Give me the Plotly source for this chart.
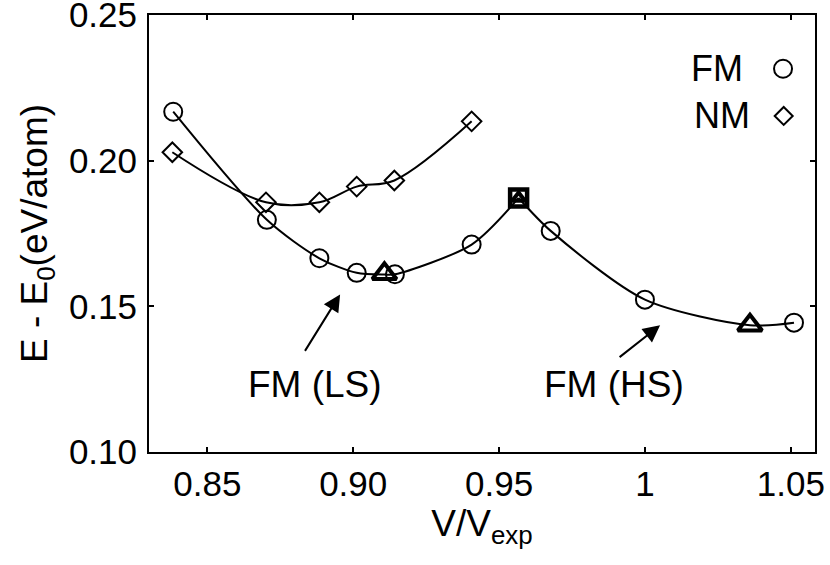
import plotly.graph_objects as go

# ---- data ----
fm_x = [0.8383, 0.8704, 0.8884, 0.9012, 0.9143, 0.9406, 0.9677, 1.0000, 1.0511]
fm_y = [0.2168, 0.1797, 0.1665, 0.1615, 0.1610, 0.1712, 0.1759, 0.1523, 0.1444]

nm_x = [0.8380, 0.8701, 0.8884, 0.9012, 0.9141, 0.9406]
nm_y = [0.2029, 0.1857, 0.1857, 0.1911, 0.1932, 0.2135]

# fitted curves (low-spin branch, high-spin branch) through the points
ls_curve_x = [0.8383, 0.8704, 0.8884, 0.9012, 0.9107, 0.9143, 0.9406, 0.9567]
ls_curve_y = [0.2168, 0.1797, 0.1665, 0.1615, 0.1609, 0.1610, 0.1712, 0.1872]
hs_curve_x = [0.9567, 0.9677, 1.0000, 1.0360, 1.0511]
hs_curve_y = [0.1872, 0.1759, 0.1523, 0.1435, 0.1444]

min_x = [0.9107, 1.0360]       # triangles (minima)
min_y = [0.1612, 0.1435]
cross_x = [0.9567]             # square (transition)
cross_y = [0.1872]

x_ticks = [0.85, 0.90, 0.95, 1.00, 1.05]
x_tick_text = ["0.85", "0.90", "0.95", "1", "1.05"]
y_ticks = [0.10, 0.15, 0.20, 0.25]
y_tick_text = ["0.10", "0.15", "0.20", "0.25"]

FONT = "Liberation Sans, Arial, sans-serif"

fig = go.Figure()

fig.add_trace(go.Scatter(x=nm_x, y=nm_y, mode="lines",
                         line=dict(color="black", width=2, shape="spline", smoothing=1.0),
                         showlegend=False, hoverinfo="skip"))
fig.add_trace(go.Scatter(x=ls_curve_x, y=ls_curve_y, mode="lines",
                         line=dict(color="black", width=2, shape="spline", smoothing=0.8),
                         showlegend=False, hoverinfo="skip"))
fig.add_trace(go.Scatter(x=hs_curve_x, y=hs_curve_y, mode="lines",
                         line=dict(color="black", width=2, shape="spline", smoothing=0.8),
                         showlegend=False, hoverinfo="skip"))

fig.add_trace(go.Scatter(x=nm_x, y=nm_y, mode="markers", name="NM",
                         marker=dict(symbol="diamond-open", size=15, color="black",
                                     line=dict(color="black", width=2)),
                         showlegend=False))
fig.add_trace(go.Scatter(x=fm_x, y=fm_y, mode="markers", name="FM",
                         marker=dict(symbol="circle-open", size=18, color="black",
                                     line=dict(color="black", width=2)),
                         showlegend=False))
fig.add_trace(go.Scatter(x=min_x, y=min_y, mode="markers",
                         marker=dict(symbol="triangle-up-open", size=21, color="black",
                                     line=dict(color="black", width=4)),
                         showlegend=False))
fig.add_trace(go.Scatter(x=cross_x, y=cross_y, mode="markers",
                         marker=dict(symbol="square-open", size=17, color="black",
                                     line=dict(color="black", width=4.5)),
                         showlegend=False))
fig.add_trace(go.Scatter(x=cross_x, y=cross_y, mode="markers",
                         marker=dict(symbol="triangle-up-open", size=11, color="black",
                                     line=dict(color="black", width=4)),
                         showlegend=False))

# arrows and labels
fig.add_annotation(x=0.8955, y=0.1541, xref="x", yref="y", text="", showarrow=True,
                   ax=-36, ay=58, arrowhead=2, arrowsize=1.7, arrowwidth=2, arrowcolor="black")
fig.add_annotation(x=1.0052, y=0.1435, xref="x", yref="y", text="", showarrow=True,
                   ax=-42, ay=33, arrowhead=2, arrowsize=1.7, arrowwidth=2, arrowcolor="black")
fig.add_annotation(x=0.8869, y=0.1233, xref="x", yref="y", text="FM (LS)", showarrow=False,
                   font=dict(family=FONT, size=37, color="black"))
fig.add_annotation(x=0.9894, y=0.1233, xref="x", yref="y", text="FM (HS)", showarrow=False,
                   font=dict(family=FONT, size=37, color="black"))

# legend (text + key symbols)
fig.add_annotation(x=0.895, y=0.877, xref="paper", yref="paper", text="FM", showarrow=False,
                   xanchor="right", yanchor="middle", font=dict(family=FONT, size=36, color="black"))
fig.add_annotation(x=0.905, y=0.769, xref="paper", yref="paper", text="NM", showarrow=False,
                   xanchor="right", yanchor="middle", font=dict(family=FONT, size=36, color="black"))
fig.add_shape(type="circle", xref="paper", yref="paper", xsizemode="pixel", ysizemode="pixel",
              xanchor=0.952, yanchor=0.877, x0=-9, x1=9, y0=-9, y1=9,
              line=dict(color="black", width=2))
fig.add_shape(type="path", xref="paper", yref="paper", xsizemode="pixel", ysizemode="pixel",
              xanchor=0.953, yanchor=0.769, path="M -9 0 L 0 9 L 9 0 L 0 -9 Z",
              line=dict(color="black", width=2))

axis_common = dict(showline=True, linecolor="black", linewidth=2, mirror="ticks",
                   ticks="inside", ticklen=5, tickwidth=1.5, tickcolor="black",
                   showgrid=False, zeroline=False, ticklabeloverflow="allow",
                   tickfont=dict(family=FONT, size=35, color="black"))

fig.update_xaxes(range=[0.830, 1.0583], tickvals=x_ticks, ticktext=x_tick_text,
                 title=dict(text="V/V<sub>exp</sub>", font=dict(family=FONT, size=37, color="black"),
                            standoff=4),
                 **axis_common)
fig.update_yaxes(range=[0.10, 0.25], tickvals=y_ticks, ticktext=y_tick_text,
                 ticklabelstandoff=3,
                 title=dict(text="E - E<sub>0</sub>(eV/atom)",
                            font=dict(family=FONT, size=37, color="black"), standoff=10),
                 **axis_common)

fig.update_layout(width=830, height=565, plot_bgcolor="white", paper_bgcolor="white",
                  margin=dict(l=149, r=15, t=15, b=113, autoexpand=False),
                  showlegend=False)

fig.write_html("out.html", config={"displayModeBar": False},
               post_script="document.body.style.margin='0px';")
